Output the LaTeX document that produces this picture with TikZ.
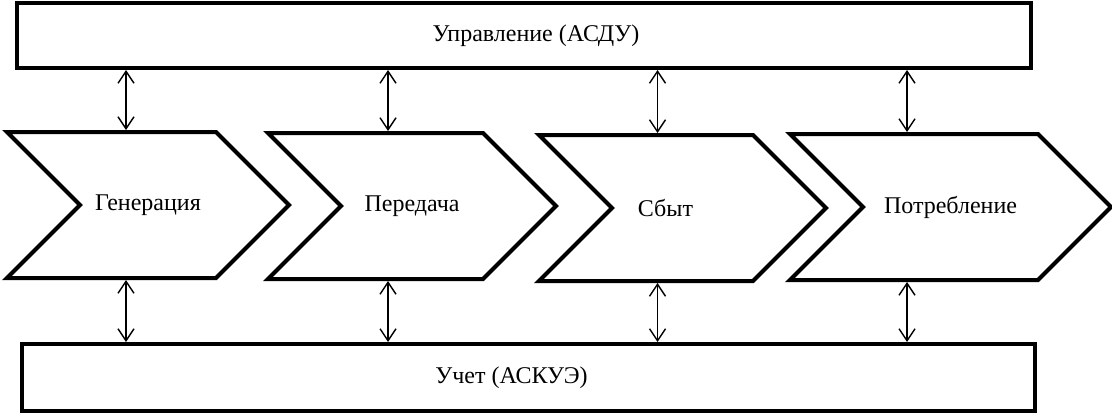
\documentclass[tikz,border=0pt]{standalone}
\usepackage{fontspec}
\setmainfont{Liberation Serif}
\usetikzlibrary{positioning,arrows.meta,shapes.symbols}
\tikzset{
  >={Straight Barb[length=6pt,width=8pt]}, % open barbed heads
  block/.style={draw,line width=2pt,inner sep=0pt},
  stage/.style={signal,draw,line width=2pt,signal from=west,signal to=east,
    signal pointer angle=90,minimum height=73pt,inner sep=0pt},
  link/.style={<->,line width=0.7pt}
}

\begin{document}
\begin{tikzpicture}[x=0.5pt,y=-0.5pt,font=\fontsize{12}{14}\selectfont]
  \useasboundingbox (0,0) rectangle (1112,413);

  % Stages of the chain
  \node[stage,minimum width=141pt] (gen) at (148,205) {Генерация};
  \node[stage,minimum width=144pt] (per) at (412,206) {Передача};
  \node[stage,minimum width=143.5pt,label={[xshift=-8.5pt]center:Сбыт}] (sbyt) at (682.5,208) {};
  \node[stage,minimum width=160.5pt] (potr) at (950.5,207) {Потребление};

  % Control and metering bars
  \node[block,minimum width=507pt,minimum height=32.5pt,
    label={[xshift=6pt]center:Управление (АСДУ)}] (upr) at (524,35.5) {};
  \node[block,minimum width=506.5pt,minimum height=33.5pt,
    label={[xshift=-8.5pt]center:Учет (АСКУЭ)}] (uch) at (528.5,377.5) {};

  % Where the links meet the stages
  \coordinate (a1) at ([xshift=-11pt]gen.center);
  \coordinate (a2) at ([xshift=-12pt]per.center);
  \coordinate (a3) at ([xshift=-12.5pt]sbyt.center);
  \coordinate (a4) at ([xshift=-21.75pt]potr.center);

  % Control <-> stages
  \draw[link] (upr.south -| a1) -- (gen.north -| a1);
  \draw[link] (upr.south -| a2) -- (per.north -| a2);
  \draw[link] (upr.south -| a3) -- (sbyt.north -| a3);
  \draw[link] (upr.south -| a4) -- (potr.north -| a4);

  % Stages <-> metering
  \draw[link] (gen.south -| a1) -- (uch.north -| a1);
  \draw[link] (per.south -| a2) -- (uch.north -| a2);
  \draw[link] (sbyt.south -| a3) -- (uch.north -| a3);
  \draw[link] (potr.south -| a4) -- (uch.north -| a4);

\end{tikzpicture}
\end{document}
